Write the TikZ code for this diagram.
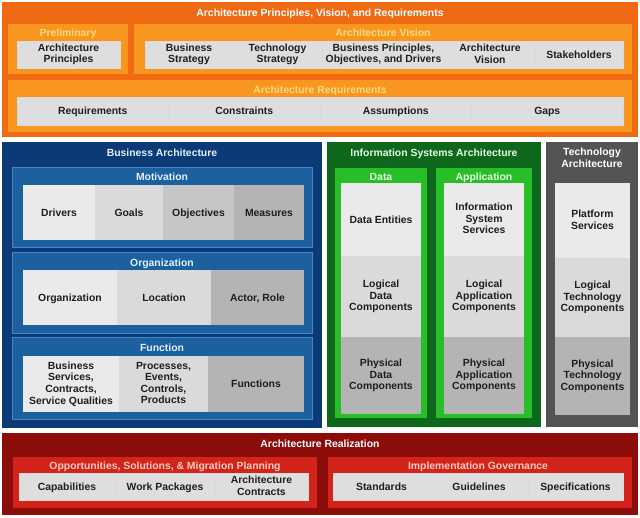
\documentclass[tikz,border=0pt]{standalone}
\usepackage{fontspec}
\setmainfont{Liberation Sans}
\definecolor{orgOut}{RGB}{240,106,20}
\definecolor{orgIn}{RGB}{248,150,32}
\definecolor{orgTxt}{RGB}{255,218,130}
\definecolor{blueOut}{RGB}{12,58,118}
\definecolor{blueIn}{RGB}{28,96,160}
\definecolor{blueEdge}{RGB}{70,135,195}
\definecolor{blueTxt}{RGB}{225,240,255}
\definecolor{grnOut}{RGB}{14,104,28}
\definecolor{grnIn}{RGB}{40,190,40}
\definecolor{grnTxt}{RGB}{228,252,228}
\definecolor{tecOut}{RGB}{84,84,84}
\definecolor{redOut}{RGB}{140,12,10}
\definecolor{redIn}{RGB}{210,36,26}
\definecolor{redTxt}{RGB}{255,205,195}
\definecolor{gA}{RGB}{234,234,234}
\definecolor{gB}{RGB}{218,218,218}
\definecolor{gC}{RGB}{198,198,198}
\definecolor{gD}{RGB}{180,180,180}
\definecolor{gT}{RGB}{222,222,222}
\definecolor{txtD}{RGB}{30,30,30}
\newcommand\mystrut{\rule[-2.1pt]{0pt}{11.6pt}}
\tikzset{
  every node/.style={inner sep=0pt, outer sep=0pt},
  lbl/.style={font=\fontsize{10.4}{11.6}\selectfont\bfseries, align=center, text=txtD,
    execute at begin node=\mystrut, execute at end node=\mystrut},
  ttl/.style={font=\fontsize{10.4}{11.6}\selectfont\bfseries, align=center,
    execute at begin node=\mystrut, execute at end node=\mystrut},
  orgouter/.style={fill=orgOut},
  orginner/.style={fill=orgIn},
  blueouter/.style={fill=blueOut},
  bluepanel/.style={fill=blueIn, draw=blueEdge, line width=0.8pt},
  greenouter/.style={fill=grnOut},
  greencol/.style={fill=grnIn},
  grayouter/.style={fill=tecOut},
  redouter/.style={fill=redOut},
  redpanel/.style={fill=redIn},
  cellT/.style={lbl, fill=gT, draw=gB, line width=0.5pt},
  cellA/.style={lbl, fill=gA},
  cellB/.style={lbl, fill=gB},
  cellC/.style={lbl, fill=gC},
  cellD/.style={lbl, fill=gD},
}
\newcommand\rbox[7]{\node[#6, minimum width={(#4-#2)*1pt}, minimum height={(#5-#3)*1pt}] (#1) at ({(#2+#4)/2},{(#3+#5)/2}) {#7};}
\begin{document}
\begin{tikzpicture}[x=1pt,y=-1pt]
\useasboundingbox[fill=white] (0,0) rectangle (640,518);
% ---------- top orange ----------
\rbox{apvr}{2}{2}{638}{137}{orgouter}{}
\node[ttl, text=white] (apvr-t) at (320,13) {Architecture Principles, Vision, and Requirements};
\rbox{prel}{8}{24}{128}{74}{orginner}{}
\node[ttl, text=orgTxt] (prel-t) at (68,33) {Preliminary};
\rbox{prel-c}{17}{41}{120}{68}{cellT}{Architecture\\Principles}
\rbox{vis}{134}{24}{632}{74}{orginner}{}
\node[ttl, text=orgTxt] (vis-t) at (383,33) {Architecture Vision};
\rbox{vis-1}{145}{41}{233}{68}{cellT}{Business\\Strategy}
\rbox{vis-2}{233}{41}{322}{68}{cellT}{Technology\\Strategy}
\rbox{vis-3}{322}{41}{445}{68}{cellT}{Business Principles,\\Objectives, and Drivers}
\rbox{vis-4}{445}{41}{535}{68}{cellT}{Architecture\\Vision}
\rbox{vis-5}{535}{41}{623}{68}{cellT}{Stakeholders}
\rbox{req}{8}{80}{632}{132}{orginner}{}
\node[ttl, text=orgTxt] (req-t) at (320,90) {Architecture Requirements};
\rbox{req-1}{17}{97}{168.5}{125}{cellT}{Requirements}
\rbox{req-2}{168.5}{97}{320}{125}{cellT}{Constraints}
\rbox{req-3}{320}{97}{471.5}{125}{cellT}{Assumptions}
\rbox{req-4}{471.5}{97}{623}{125}{cellT}{Gaps}
% ---------- business architecture ----------
\rbox{ba}{2}{142}{322}{428}{blueouter}{}
\node[ttl, text=blueTxt] (ba-t) at (162,153) {Business Architecture};
\rbox{mot}{12}{167}{312}{247}{bluepanel}{}
\node[ttl, text=blueTxt] (mot-t) at (162,177) {Motivation};
\rbox{mot-1}{23}{185}{95}{240}{cellA}{Drivers}
\rbox{mot-2}{95}{185}{163}{240}{cellB}{Goals}
\rbox{mot-3}{163}{185}{234}{240}{cellC}{Objectives}
\rbox{mot-4}{234}{185}{304}{240}{cellD}{Measures}
\rbox{org}{12}{252}{312}{333}{bluepanel}{}
\node[ttl, text=blueTxt] (org-t) at (162,263) {Organization};
\rbox{org-1}{23}{270}{117}{325}{cellA}{Organization}
\rbox{org-2}{117}{270}{211}{325}{cellB}{Location}
\rbox{org-3}{211}{270}{304}{325}{cellD}{Actor, Role}
\rbox{fun}{12}{337}{312}{419}{bluepanel}{}
\node[ttl, text=blueTxt] (fun-t) at (162,348) {Function};
\rbox{fun-1}{23}{356}{119}{412}{cellA}{Business\\Services,\\Contracts,\\Service Qualities}
\rbox{fun-2}{119}{356}{208}{412}{cellB}{Processes,\\Events,\\Controls,\\Products}
\rbox{fun-3}{208}{356}{304}{412}{cellD}{Functions}
% ---------- information systems architecture ----------
\rbox{isa}{327}{142}{541}{427}{greenouter}{}
\node[ttl, text=grnTxt] (isa-t) at (434,153) {Information Systems Architecture};
\rbox{dat}{335}{168}{427}{418}{greencol}{}
\node[ttl, text=grnTxt] (dat-t) at (381,176.5) {Data};
\rbox{dat-1}{341}{183}{421}{256}{cellA}{Data Entities}
\rbox{dat-2}{341}{256}{421}{337}{cellB}{Logical\\Data\\Components}
\rbox{dat-3}{341}{337}{421}{414}{cellD}{Physical\\Data\\Components}
\rbox{app}{436}{168}{532}{418}{greencol}{}
\node[ttl, text=grnTxt] (app-t) at (484,176.5) {Application};
\rbox{app-1}{444}{183}{524}{256}{cellA}{Information\\System\\Services}
\rbox{app-2}{444}{256}{524}{337}{cellB}{Logical\\Application\\Components}
\rbox{app-3}{444}{337}{524}{414}{cellD}{Physical\\Application\\Components}
% ---------- technology architecture ----------
\rbox{ta}{546}{142}{638}{427}{grayouter}{}
\node[ttl, text=white] (ta-t) at (592,158.5) {Technology\\Architecture};
\rbox{ta-1}{555}{183}{630}{258}{cellA}{Platform\\Services}
\rbox{ta-2}{555}{258}{630}{337}{cellB}{Logical\\Technology\\Components}
\rbox{ta-3}{555}{337}{630}{415}{cellD}{Physical\\Technology\\Components}
% ---------- architecture realization ----------
\rbox{ar}{2}{433}{638}{515}{redouter}{}
\node[ttl, text=white] (ar-t) at (320,444) {Architecture Realization};
\rbox{opp}{13}{457}{317}{508}{redpanel}{}
\node[ttl, text=redTxt] (opp-t) at (165,466) {Opportunities, Solutions, \& Migration Planning};
\rbox{opp-1}{19}{473}{115}{500}{cellT}{Capabilities}
\rbox{opp-2}{115}{473}{215}{500}{cellT}{Work Packages}
\rbox{opp-3}{215}{473}{308}{500}{cellT}{Architecture\\Contracts}
\rbox{gov}{328}{457}{632}{508}{redpanel}{}
\node[ttl, text=redTxt] (gov-t) at (478,466) {Implementation Governance};
\rbox{gov-1}{333}{473}{430}{500}{cellT}{Standards}
\rbox{gov-2}{430}{473}{528}{500}{cellT}{Guidelines}
\rbox{gov-3}{528}{473}{623}{500}{cellT}{Specifications}
\end{tikzpicture}
\end{document}
